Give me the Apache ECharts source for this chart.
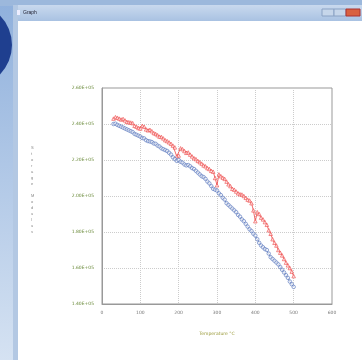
<!DOCTYPE html>
<html>
<head>
<meta charset="utf-8">
<script src="https://cdn.jsdelivr.net/npm/echarts@6/dist/echarts.min.js"></script>
<style>
  html, body { margin: 0; padding: 0; background: #fff; }
  #chart { width: 362px; height: 360px; }
</style>
</head>
<body>
<div id="chart"></div>
<script>
// temperature steps (°C)
var temps = [30, 35, 40, 45, 50, 55, 60, 65, 70, 75, 80, 85, 90, 95, 100, 105, 110, 115, 120, 125,
  130, 135, 140, 145, 150, 155, 160, 165, 170, 175, 180, 185, 190, 195, 200, 205, 210, 215, 220, 225,
  230, 235, 240, 245, 250, 255, 260, 265, 270, 275, 280, 285, 290, 295, 300, 305, 310, 315, 320, 325,
  330, 335, 340, 345, 350, 355, 360, 365, 370, 375, 380, 385, 390, 395, 400, 405, 410, 415, 420, 425,
  430, 435, 440, 445, 450, 455, 460, 465, 470, 475, 480, 485, 490, 495, 500];
var redValues = [243000, 243800, 243500, 243000, 242500, 242800, 242000, 241200, 241000, 240800,
  240500, 239000, 238500, 237800, 237500, 239000, 238500, 237000, 236500, 236800,
  236000, 235000, 234500, 233800, 233000, 232800, 232000, 231000, 230500, 229800,
  229000, 228000, 227000, 222000, 222500, 226500, 226000, 225000, 224000, 224200,
  223000, 222000, 221000, 220500, 219500, 218800, 218000, 217000, 216500, 215500,
  215000, 214000, 213500, 210000, 206000, 212000, 211000, 210200, 209500, 208000,
  206500, 205500, 204000, 203500, 202500, 201500, 201000, 200800, 200000, 199000,
  198000, 197500, 196000, 192000, 186000, 191000, 190000, 188000, 187000, 185500,
  184000, 181000, 179000, 176000, 174000, 172500, 170000, 168500, 167000, 165000,
  163000, 161500, 160000, 158000, 155500];
var blueValues = [240000, 240200, 239500, 239000, 238500, 238000, 237500, 237000, 236500, 236000,
  235500, 234500, 234000, 233500, 233000, 232200, 232000, 231000, 230500, 230300,
  230000, 229200, 229000, 228000, 227500, 226500, 226000, 225500, 225000, 224000,
  223000, 221500, 220500, 219500, 220000, 219000, 218500, 217500, 217000, 217200,
  216500, 215500, 215000, 214000, 213000, 212000, 211000, 210500, 209500, 208000,
  207000, 205500, 204000, 203500, 203000, 201500, 200500, 199000, 198000, 196000,
  195000, 194000, 193000, 192000, 191000, 189500, 188500, 187000, 186000, 184500,
  183000, 181500, 180500, 179000, 178000, 176000, 174000, 172500, 171500, 170500,
  170000, 168000, 166000, 165000, 164000, 163000, 162000, 160500, 159000, 157500,
  156000, 154500, 152500, 151000, 149500];
var yTitle = 'Storage Modulus';
var xTitle = 'Temperature °C';

function pairs(xs, ys) {
  return xs.map(function (x, i) { return [x, ys[i]]; });
}

var myChart = echarts.init(document.getElementById('chart'));

var option = {
  animation: false,
  backgroundColor: '#fff',
  textStyle: { fontFamily: 'DejaVu Sans' },
  graphic: [
    // desktop strip on the left
    { type: 'rect', shape: { x: 0, y: 0, width: 16, height: 360 }, style: {
      fill: new echarts.graphic.LinearGradient(0, 0, 0, 1, [
        { offset: 0, color: '#8fb0dc' }, { offset: 1, color: '#d5e2f2' }]) }, z: 0 },
    { type: 'circle', shape: { cx: -30, cy: 45, r: 42 }, style: { fill: '#1f3f8f' }, z: 1 },
    // window title bar
    { type: 'rect', shape: { x: 0, y: 0, width: 362, height: 6 }, style: { fill: '#9cb8dc' }, z: 0 },
    { type: 'rect', shape: { x: 13, y: 5, width: 349, height: 16 }, style: {
      fill: new echarts.graphic.LinearGradient(0, 0, 0, 1, [
        { offset: 0, color: '#c9d9ee' }, { offset: 1, color: '#a9c2e2' }]) }, z: 2 },
    { type: 'rect', shape: { x: 13, y: 5, width: 5, height: 355 }, style: { fill: '#b3c8e3' }, z: 2 },
    { type: 'rect', shape: { x: 17, y: 10, width: 3, height: 5 }, style: { fill: '#eef' }, z: 3 },
    { type: 'text', left: 23, top: 10, style: { text: 'Graph', fill: '#223', fontSize: 5 }, z: 3 },
    { type: 'rect', shape: { x: 322, y: 9, width: 12, height: 7 }, style: { fill: '#c6d6ea', stroke: '#8aa2c4' }, z: 3 },
    { type: 'rect', shape: { x: 334, y: 9, width: 12, height: 7 }, style: { fill: '#c6d6ea', stroke: '#8aa2c4' }, z: 3 },
    { type: 'rect', shape: { x: 346, y: 9, width: 14, height: 7 }, style: { fill: '#d9603f', stroke: '#a33' }, z: 3 },
    // vertical stacked y title
    { type: 'text', left: 31, top: 145, style: {
      text: yTitle.split('').join('\n'), fill: '#888', fontSize: 4, lineHeight: 6, align: 'center' }, z: 3 }
  ],
  grid: { left: 102, top: 88, right: 30, bottom: 56, show: true, borderColor: '#999', borderWidth: 1 },
  xAxis: {
    type: 'value', min: 0, max: 600, interval: 100,
    name: xTitle, nameLocation: 'middle', nameGap: 27,
    nameTextStyle: { color: '#9a9a3a', fontSize: 4.5 },
    axisLine: { show: true, lineStyle: { color: '#999' } },
    axisTick: { show: false },
    axisLabel: { color: '#777', fontSize: 4.5, margin: 6 },
    splitLine: { show: true, lineStyle: { color: '#ccc', type: 'dotted' } }
  },
  yAxis: {
    type: 'value', min: 140000, max: 260000, interval: 20000,
    axisLine: { show: true, lineStyle: { color: '#999' } },
    axisTick: { show: false },
    axisLabel: { color: '#6a8a3a', fontSize: 4.5, margin: 8,
      formatter: function (v) { return (v / 100000).toFixed(2) + 'E+05'; } },
    splitLine: { show: true, lineStyle: { color: '#ccc', type: 'dotted' } }
  },
  series: [
    {
      name: 'red', type: 'line', data: pairs(temps, redValues),
      symbol: 'triangle', symbolSize: 3.5, showAllSymbol: true,
      lineStyle: { color: '#ee4444', width: 0.8 },
      itemStyle: { color: 'rgba(255,255,255,0.6)', borderColor: 'rgba(238,80,80,0.85)', borderWidth: 0.8 }
    },
    {
      name: 'blue', type: 'line', data: pairs(temps, blueValues),
      symbol: 'circle', symbolSize: 3.5, showAllSymbol: true,
      lineStyle: { color: '#4f6fb5', width: 0.8 },
      itemStyle: { color: 'rgba(255,255,255,0.6)', borderColor: 'rgba(90,120,190,0.85)', borderWidth: 0.8 }
    }
  ]
};

myChart.setOption(option);
</script>
</body>
</html>
